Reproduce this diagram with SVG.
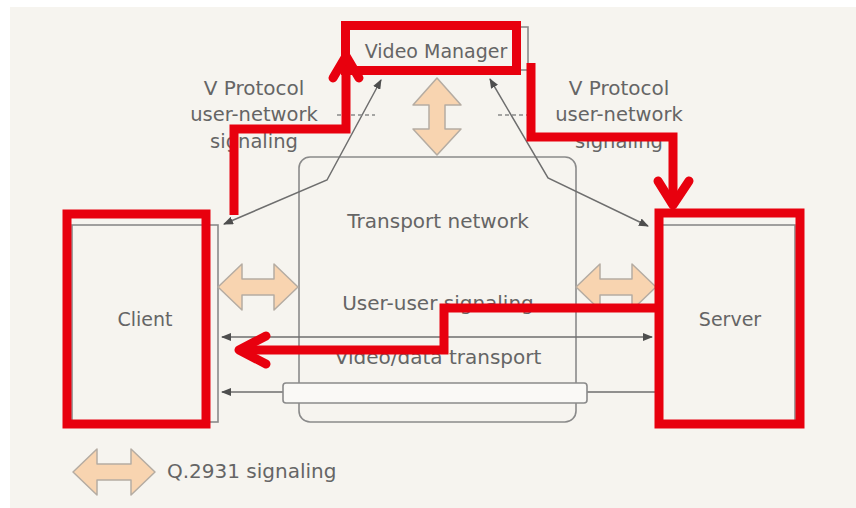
<svg xmlns="http://www.w3.org/2000/svg" width="856" height="508" viewBox="0 0 856 508">
<style>
.t{font-family:"DejaVu Sans","Liberation Sans",sans-serif;fill:#656565;text-anchor:middle}
.g{fill:none;stroke:#8a8a8a;stroke-width:1.6}
.ln{fill:none;stroke:#6e6e6e;stroke-width:1.5}
.dsh{fill:none;stroke:#8a8a8a;stroke-width:1.3;stroke-dasharray:4 3}
.da{fill:#f8d4b0;stroke:#b5aca2;stroke-width:1.5;stroke-linejoin:round}
.red{fill:none;stroke:#e8000e;stroke-width:9;stroke-linejoin:miter}
.redar{fill:none;stroke:#e8000e;stroke-width:9;stroke-linecap:round;stroke-linejoin:round}
</style>
<defs>
<marker id="ah" viewBox="0 0 10 8" refX="9" refY="4" markerWidth="10" markerHeight="8" markerUnits="userSpaceOnUse" orient="auto-start-reverse">
<path d="M0,0 L10,4 L0,8 Z" fill="#4e4e4e"/>
</marker>
</defs>
<rect x="0" y="0" width="856" height="508" fill="#ffffff"/>
<rect x="10" y="7" width="846" height="501" fill="#f6f4ef"/>

<g id="transport-network">
<rect class="g" x="299" y="157" width="277" height="265" rx="11"/>
<text class="t" x="438" y="228" font-size="20">Transport network</text>
</g>

<g id="video-manager">
<rect class="g" x="345" y="27" width="183" height="43"/>
<text class="t" x="436" y="58" font-size="19">Video Manager</text>
</g>

<g id="client">
<rect class="g" x="72" y="225" width="146" height="197"/>
<text class="t" x="145" y="326" font-size="19">Client</text>
</g>

<g id="server">
<rect class="g" x="660" y="225" width="135" height="197"/>
<text class="t" x="730" y="326" font-size="19">Server</text>
</g>

<g id="labels">
<text class="t" x="254" y="95" font-size="20">V Protocol</text>
<text class="t" x="254" y="121" font-size="19.5">user-network</text>
<text class="t" x="254" y="148" font-size="19.5">signaling</text>
<text class="t" x="619" y="95" font-size="20">V Protocol</text>
<text class="t" x="619" y="121" font-size="19.5">user-network</text>
<text class="t" x="619" y="148" font-size="19.5">signaling</text>
<text class="t" x="438" y="310" font-size="20">User-user signaling</text>
<text class="t" x="438" y="364" font-size="20">Video/data transport</text>
</g>

<g id="connectors">
<path class="ln" d="M224,224 L327,180 L381,80" marker-start="url(#ah)" marker-end="url(#ah)"/>
<path class="ln" d="M490,79 L548,178 L648,226" marker-start="url(#ah)" marker-end="url(#ah)"/>
<path class="dsh" d="M337,115 H375"/>
<path class="dsh" d="M498,115 H535"/>
<path class="ln" d="M222,337 H652" marker-start="url(#ah)" marker-end="url(#ah)"/>
<path class="ln" d="M222,392 H658" marker-start="url(#ah)"/>
<rect x="283" y="383" width="304" height="20" rx="3" fill="#faf9f6" stroke="#8a8a8a" stroke-width="1.6"/>
<path class="da" d="M437,78 L461,105 L445,105 L445,129 L461,129 L437,155 L413,129 L429,129 L429,105 L413,105 Z"/>
<path class="da" d="M218,287 L242,264 L242,279 L274,279 L274,264 L298,287 L274,310 L274,295 L242,295 L242,310 Z"/>
<path class="da" d="M576,287 L600,264 L600,279 L632,279 L632,264 L656,287 L632,310 L632,295 L600,295 L600,310 Z"/>
</g>

<g id="legend">
<path class="da" d="M73,472 L97,449 L97,464 L131,464 L131,449 L155,472 L131,495 L131,480 L97,480 L97,495 Z"/>
<text class="t" x="167" y="478" font-size="20" style="text-anchor:start">Q.2931 signaling</text>
</g>

<g id="annotations">
<rect class="red" x="345.5" y="25.5" width="171" height="45"/>
<rect class="red" x="67" y="214" width="139" height="210"/>
<rect class="red" x="659" y="213" width="141" height="211"/>
<path class="red" d="M234,215 V129 H346 V58"/>
<path class="redar" d="M333,78 L346,56 L359,78"/>
<path class="red" d="M531,63 V137 H673 V204"/>
<path class="redar" d="M658,181 L673,205 L689,181"/>
<path class="red" d="M655,308 H444 V350 H240"/>
<path class="redar" d="M266,336 L239,350 L266,364"/>
</g>
</svg>
